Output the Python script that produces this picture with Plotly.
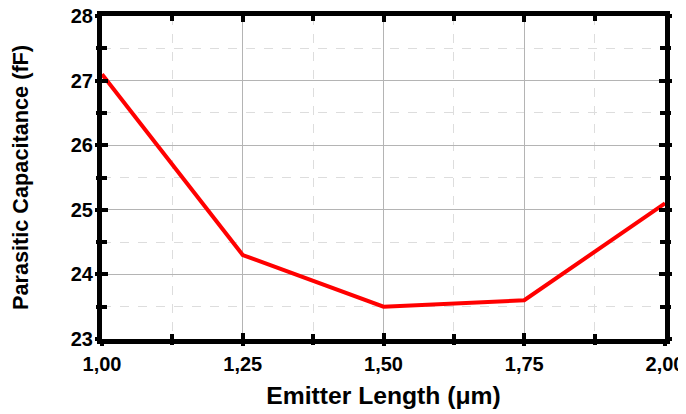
import plotly.graph_objects as go

emitter_length = [1.00, 1.25, 1.50, 1.75, 2.00]
capacitance = [27.1, 24.3, 23.5, 23.6, 25.1]
x_ticks = [1.00, 1.25, 1.50, 1.75, 2.00]
y_ticks = [23, 24, 25, 26, 27, 28]

FONT = "Arial, Liberation Sans, sans-serif"
XR = [1.0, 2.0]
YR = [23, 28]

fig = go.Figure()
fig.add_trace(go.Scatter(x=emitter_length, y=capacitance, mode="lines",
                         line=dict(color="#ff0000", width=4), cliponaxis=False,
                         showlegend=False, hoverinfo="skip"))
for xa, ya in [("x2", "y"), ("x3", "y"), ("x", "y2"), ("x", "y3"), ("x", "y4")]:
    fig.add_trace(go.Scatter(x=[None], y=[None], xaxis=xa, yaxis=ya, showlegend=False))

tick_common = dict(tickcolor="black", tickwidth=4, ticklen=6)
minor_common = dict(tickcolor="black", tickwidth=4, ticklen=5)
hidden = dict(showticklabels=False, showgrid=False, zeroline=False, showline=False, automargin=False)

fig.update_layout(
    width=686, height=414,
    margin=dict(l=94, r=29, t=8, b=83),
    paper_bgcolor="white", plot_bgcolor="white",
    separators=",.",
    font=dict(family=FONT, color="black"),
    xaxis=dict(range=XR, tickvals=x_ticks, tickformat=".2f", ticks="inside", **tick_common,
               minor=dict(dtick=0.125, tick0=1.0, ticks="inside", showgrid=True,
                          gridcolor="#dddddd", griddash="dash", gridwidth=1, **minor_common),
               showgrid=True, gridcolor="#b4b4b4", gridwidth=1,
               showline=True, linecolor="black", linewidth=5, mirror=True,
               tickfont=dict(size=20, family=FONT, weight="bold"), ticklabelstandoff=3,
               ticklabeloverflow="allow",
               title=dict(text="<b>Emitter Length (μm)</b>", font=dict(size=24.7, family=FONT), standoff=14),
               zeroline=False, automargin=False),
    xaxis2=dict(range=XR, overlaying="x", side="bottom", tickvals=x_ticks, ticks="outside", **tick_common,
                minor=dict(dtick=0.125, tick0=1.0, ticks="outside", **minor_common), **hidden),
    xaxis3=dict(range=XR, overlaying="x", side="top", tickvals=x_ticks, ticks="inside", **tick_common,
                minor=dict(dtick=0.125, tick0=1.0, ticks="inside", **minor_common), **hidden),
    yaxis=dict(range=YR, tickvals=y_ticks, ticks="inside", **tick_common,
               minor=dict(dtick=0.5, tick0=23, ticks="inside", showgrid=True,
                          gridcolor="#dddddd", griddash="dash", gridwidth=1, **minor_common),
               showgrid=True, gridcolor="#b4b4b4", gridwidth=1,
               showline=True, linecolor="black", linewidth=5, mirror=True,
               tickfont=dict(size=20, family=FONT, weight="bold"), ticksuffix="\u00a0\u00a0\u00a0",
               ticklabeloverflow="allow",
               title=dict(text="<b>Parasitic Capacitance (fF)</b>", font=dict(size=21.7, family=FONT), standoff=38),
               zeroline=False, automargin=False),
    yaxis2=dict(range=YR, overlaying="y", side="left", tickvals=y_ticks, ticks="outside", **tick_common,
                minor=dict(dtick=0.5, tick0=23, ticks="outside", **minor_common), **hidden),
    yaxis3=dict(range=YR, overlaying="y", side="right", tickvals=y_ticks, ticks="outside", **tick_common,
                minor=dict(dtick=0.5, tick0=23, ticks="outside", **minor_common), **hidden),
    yaxis4=dict(range=YR, overlaying="y", side="right", tickvals=y_ticks, ticks="inside", **tick_common,
                minor=dict(dtick=0.5, tick0=23, ticks="inside", **minor_common), **hidden),
)

fig.write_html("out.html")
